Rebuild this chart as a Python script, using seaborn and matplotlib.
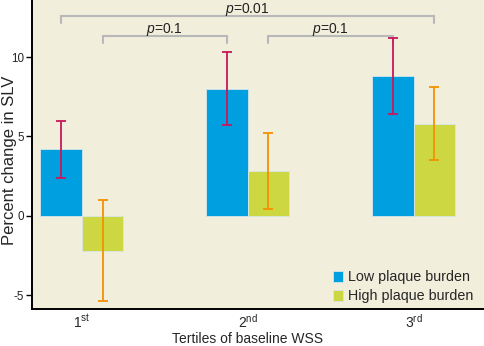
import matplotlib
matplotlib.use("Agg")
import matplotlib.pyplot as plt
import seaborn as sns
import pandas as pd
import numpy as np

# Mean percent change in SLV and error half-widths per tertile / plaque group
tertiles = ["1st", "2nd", "3rd"]
tick_labels = [r"1$^{\mathregular{st}}$", r"2$^{\mathregular{nd}}$", r"3$^{\mathregular{rd}}$"]
groups = ["Low plaque burden", "High plaque burden"]
low_mean = [4.2, 8.0, 8.8]
low_err = [1.8, 2.3, 2.4]
high_mean = [-2.2, 2.8, 5.8]
high_err = [3.2, 2.4, 2.3]
p_labels = ["p=0.01", "p=0.1", "p=0.1"]

bar_colors = ["#009FE0", "#CDD741"]
err_colors = ["#C8175A", "#F39200"]
bg = "#F2EEDC"

df = pd.DataFrame({
    "tertile": tertiles * 2,
    "group": [groups[0]] * 3 + [groups[1]] * 3,
    "value": low_mean + high_mean,
})

sns.set_style("white")
plt.rcParams["font.family"] = ["Liberation Sans", "DejaVu Sans"]
plt.rcParams["axes.unicode_minus"] = False
plt.rcParams["mathtext.fontset"] = "custom"
plt.rcParams["mathtext.rm"] = "Liberation Sans"
plt.rcParams["mathtext.it"] = "Liberation Sans:italic"

fig = plt.figure(figsize=(4.85, 3.46), dpi=100)
fig.patch.set_facecolor("white")
ax = fig.add_axes([0.066, 0.107, 0.934, 0.893])
ax.set_facecolor(bg)

sns.barplot(data=df, x="tertile", y="value", hue="group", order=tertiles,
            hue_order=groups, palette=bar_colors, saturation=1, width=0.5,
            errorbar=None, edgecolor="#D6E6EC", linewidth=0.6, ax=ax)

# Error bars centred on each bar
bar_containers = list(ax.containers[:2])
centers = []
for ci, cont in enumerate(bar_containers):
    errs = [low_err, high_err][ci]
    xs = [b.get_x() + b.get_width() / 2 for b in cont]
    hs = [b.get_height() for b in cont]
    centers.append(xs)
    ax.errorbar(xs, hs, yerr=errs, fmt="none", ecolor=err_colors[ci],
                elinewidth=1.3, capsize=3.5, capthick=1.3, zorder=4)

# Significance brackets
def bracket(x0, x1, y, drop, label):
    ax.plot([x0, x0, x1, x1], [y - drop, y, y, y - drop], color="#B8B8B8",
            lw=1.5, solid_joinstyle="miter", clip_on=False, zorder=3)
    ax.text((x0 + x1) / 2, y + 0.22, label, ha="center", va="baseline",
            fontsize=10, color="#222222")

def plabel(s):
    return r"$\mathit{p}$" + s[1:]

bracket(centers[0][0], centers[1][2], 12.58, 0.42, plabel(p_labels[0]))
bracket(centers[1][0], centers[0][1], 11.32, 0.42, plabel(p_labels[1]))
bracket(centers[1][1], centers[0][2], 11.32, 0.42, plabel(p_labels[2]))

ax.set_ylim(-5.88, 13.6)
ax.set_xlim(-0.30, 2.43)
ax.set_yticks([-5, 0, 5, 10])
ax.set_yticklabels(["-5", "0", "5", "10"])
ax.set_xticks(range(3))
ax.set_xticklabels(tick_labels)
ax.tick_params(axis="y", length=4, width=1, color="black", labelsize=8.4, pad=2, left=True)
ax.tick_params(axis="x", length=0, labelsize=10, pad=3)
ax.set_xlabel("Tertiles of baseline WSS", fontsize=10, labelpad=0)
ax.xaxis.set_label_coords(0.475, -0.075)
ax.xaxis.label.set_va("top")
ax.set_ylabel("Percent change in SLV", fontsize=12)
ax.yaxis.set_label_coords(-0.034, 0.482)

for s in ["top", "right"]:
    ax.spines[s].set_visible(False)
for s in ["left", "bottom"]:
    ax.spines[s].set_color("black")
    ax.spines[s].set_linewidth(1.4)

ax.legend(loc="lower right", frameon=False, fontsize=10.3, handlelength=0.7,
          handleheight=0.8, handletextpad=0.35, labelspacing=0.35,
          borderaxespad=0.0, bbox_to_anchor=(0.987, 0.0))

fig.savefig("out.png", dpi=100, facecolor="white")
